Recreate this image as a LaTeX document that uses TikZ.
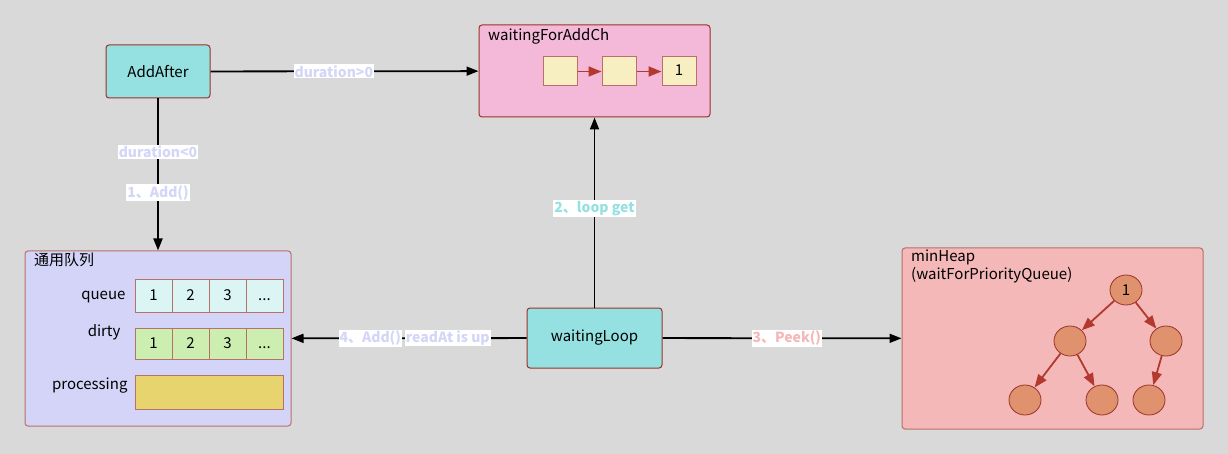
\documentclass[tikz,border=0pt]{standalone}
\usepackage{fontspec}
\setmainfont{Noto Sans CJK SC}
\usepackage{xcolor}
\usepackage{tikz}
\usetikzlibrary{shapes,arrows.meta}
\definecolor{cBg}{HTML}{D9D9D9}
\definecolor{cLine}{HTML}{9A3328}
\definecolor{cCyan}{HTML}{95E1E1}
\definecolor{cPink}{HTML}{F4B8D9}
\definecolor{cLav}{HTML}{D4D4F8}
\definecolor{cRose}{HTML}{F4B8B8}
\definecolor{cCream}{HTML}{F7EFC2}
\definecolor{cQueue}{HTML}{DBF5F5}
\definecolor{cDirty}{HTML}{CCEFB1}
\definecolor{cProc}{HTML}{E8D46F}
\definecolor{cHeap}{HTML}{E0926E}
\definecolor{cRed}{HTML}{B3392F}
\definecolor{cLavText}{HTML}{D3D6F7}
\newcommand{\tsDots}{...}
\tikzstyle{tsText} = [
    text=black,
    font=\fontsize{15}{18}\selectfont
]
\tikzstyle{tsRectangle} = [
    rectangle,
    tsText,
    draw=cLine,
    line width=1pt,
    rounded corners=3pt
]
\tikzstyle{tsGroup} = [
    tsRectangle,
    draw=cLine!70
]
\tikzstyle{tsCell} = [
    rectangle,
    tsText,
    draw=cLine!70,
    line width=1pt,
    minimum width=37pt,
    text height=11pt,
    text depth=2pt,
    inner sep=0pt
]
\tikzstyle{tsHeapNode} = [
    ellipse,
    tsText,
    draw=cLine,
    fill=cHeap,
    line width=0.8pt,
    minimum width=32pt,
    minimum height=30pt,
    inner sep=0pt
]
\tikzstyle{tsFlow} = [
    draw=black,
    line width=1.8pt,
    -{Triangle[length=12pt,width=9pt]}
]
\tikzstyle{tsLink} = [
    draw=cRed,
    line width=1.8pt,
    -{Triangle[length=13pt,width=10pt]}
]
\tikzstyle{tsEdgeLabel} = [
    fill=white,
    inner sep=1pt,
    font=\bfseries\fontsize{14}{17}\selectfont
]

\begin{document}
\begin{tikzpicture}[x=1pt, y=-1pt]

    \fill[cBg] (0,0) rectangle (1228,454);
    \useasboundingbox (0,0) rectangle (1228,454);

    % top row
    \node[ tsRectangle,
            minimum width=104pt,
            minimum height=53pt,
            fill=cCyan] (addafter) at (158,71.5) {AddAfter};

    \node[ tsRectangle,
            minimum width=231pt,
            minimum height=92pt,
            fill=cPink] (waitch) at (594.5,71) {};
    \node[tsText, anchor=north west, inner sep=2pt] (waitchtitle) at (486,26) {waitingForAddCh};

    \node[ tsCell, minimum width=34pt, minimum height=29pt, fill=cCream] (ch1) at (560,71.5) {};
    \node[ tsCell, minimum width=34pt, minimum height=29pt, fill=cCream] (ch2) at (619,71.5) {};
    \node[ tsCell, minimum width=34pt, minimum height=29pt, fill=cCream] (ch3) at (679,71.5) {1};
    \draw[tsLink] (ch1) -- (ch2);
    \draw[tsLink] (ch2) -- (ch3);

    % generic queue
    \node[ tsGroup,
            minimum width=266pt,
            minimum height=175pt,
            fill=cLav] (queuebox) at (158,338.5) {};
    \node[tsText, anchor=north west, inner sep=2pt] (queuetitle) at (32,251) {通用队列};

    \node[tsText, anchor=east] (queuelbl) at (129,297) {queue};
    \node[tsText, anchor=east] (dirtylbl) at (124,332) {dirty};
    \node[tsText, anchor=east] (proclbl) at (131,386) {processing};

    \foreach \i/\t in {0/1, 1/2, 2/3, 3/\tsDots} {
        \node[tsCell, minimum height=33pt, fill=cQueue] (q\i) at (153.5+37*\i,295.5) {\t};
        \node[tsCell, minimum height=31pt, fill=cDirty] (d\i) at (153.5+37*\i,343.5) {\t};
    }
    \node[ tsCell,
            minimum width=148pt,
            minimum height=34pt,
            fill=cProc] (proc) at (209,392) {};

    % loop
    \node[ tsRectangle,
            minimum width=135pt,
            minimum height=60pt,
            fill=cCyan] (waitloop) at (594.5,338) {waitingLoop};

    % min heap
    \node[ tsGroup,
            minimum width=301pt,
            minimum height=181pt,
            fill=cRose] (minheap) at (1052.5,338.5) {};
    \node[tsText, anchor=north west, align=left, inner sep=2pt] (heaptitle) at (909,248)
        {minHeap\\(waitForPriorityQueue)};

    \node[tsHeapNode] (h1) at (1126,290) {1};
    \node[tsHeapNode] (h2) at (1070,341) {};
    \node[tsHeapNode] (h3) at (1166,341) {};
    \node[tsHeapNode] (h4) at (1025,400) {};
    \node[tsHeapNode] (h5) at (1102,400) {};
    \node[tsHeapNode] (h6) at (1149,400) {};
    \draw[tsLink] (h1) -- (h2);
    \draw[tsLink] (h1) -- (h3);
    \draw[tsLink] (h2) -- (h4);
    \draw[tsLink] (h2) -- (h5);
    \draw[tsLink] (h3) -- (h6);

    % flows
    \draw[tsFlow] (addafter) -- node[tsEdgeLabel, text=cLavText, pos=0.46] {duration>0} (waitch);
    \draw[tsFlow] (addafter) --
        node[tsEdgeLabel, text=cLavText, pos=0.35] {duration<0}
        node[tsEdgeLabel, text=cLavText, pos=0.62] {1、Add()} (queuebox);
    \draw[tsFlow] (waitloop) -- node[tsEdgeLabel, text=cCyan, pos=0.52] {2、loop get} (waitch);
    \draw[tsFlow] (waitloop) --
        node[tsEdgeLabel, text=cLavText, pos=0.335] {readAt is up}
        node[tsEdgeLabel, text=cLavText, pos=0.665] {4、Add()} (queuebox);
    \draw[tsFlow] (waitloop) -- node[tsEdgeLabel, text=cRose, pos=0.52] {3、Peek()} (minheap);

\end{tikzpicture}
\end{document}
